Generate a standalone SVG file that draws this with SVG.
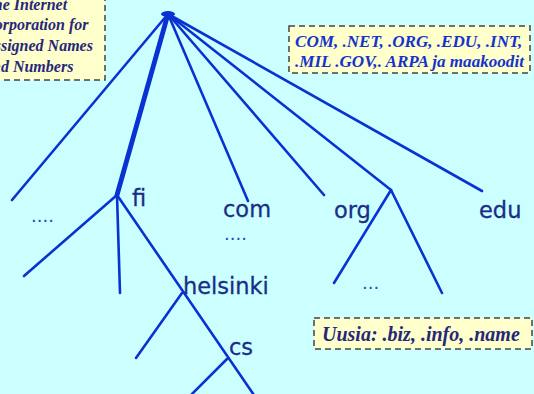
<svg xmlns="http://www.w3.org/2000/svg" width="534" height="394" viewBox="0 0 534 394">
<style>
.ln{stroke:#0a32d2;stroke-width:2.6;fill:none;stroke-linecap:round}
.thick{stroke-width:4.8}
.lbl{font-family:"DejaVu Sans",sans-serif;font-size:22.5px;fill:#1a2e86;stroke:#1a2e86;stroke-width:0.3}
.dots{font-family:"DejaVu Sans",sans-serif;font-size:18px;fill:#2a48c0}
.box{fill:#ffffcc;stroke:#444;stroke-width:1.5;stroke-dasharray:6,4}
.note{font-family:"Liberation Serif",serif;font-weight:bold;font-style:italic}
</style>
<rect x="0" y="0" width="534" height="394" fill="#ccffff"/>
<g id="note-icann">
<rect class="box" x="-10" y="-10" width="115" height="90"/>
<text class="note" font-size="16" fill="#27277a"><tspan x="-16" y="9.5">The Internet</tspan><tspan x="-16" y="30.2">Corporation for</tspan><tspan x="-16" y="50.9">Assigned Names</tspan><tspan x="-16" y="71.6">and Numbers</tspan></text>
</g>
<g id="note-tld">
<rect class="box" x="289" y="26" width="241" height="47"/>
<text class="note" font-size="17.1" fill="#1433cc"><tspan x="295" y="47">COM, .NET, .ORG, .EDU, .INT,</tspan><tspan x="295" y="67">.MIL .GOV,. ARPA ja maakoodit</tspan></text>
</g>
<g id="note-new">
<rect class="box" x="314" y="318" width="218" height="31"/>
<text class="note" x="322" y="341" font-size="20" fill="#27277a">Uusia: .biz, .info, .name</text>
</g>
<g id="connectors">
<line class="ln" x1="168" y1="14" x2="12" y2="200"/>
<line class="ln thick" x1="168" y1="14" x2="117" y2="195"/>
<line class="ln" x1="168" y1="14" x2="248" y2="201"/>
<line class="ln" x1="168" y1="14" x2="324" y2="195"/>
<line class="ln" x1="168" y1="14" x2="391" y2="190"/>
<line class="ln" x1="168" y1="14" x2="482" y2="191"/>
<line class="ln" x1="117" y1="195" x2="24" y2="276"/>
<line class="ln" x1="117" y1="195" x2="120" y2="293"/>
<line class="ln" x1="117" y1="195" x2="256" y2="398"/>
<line class="ln" x1="182" y1="293" x2="136" y2="358"/>
<line class="ln" x1="227" y1="359" x2="188" y2="398"/>
<line class="ln" x1="391" y1="190" x2="334" y2="283"/>
<line class="ln" x1="391" y1="190" x2="442" y2="293"/>
</g>
<g id="root"><ellipse cx="168" cy="14" rx="7" ry="3" fill="#0a32d2"/></g>
<g id="node-left"><text class="dots" x="31" y="222">....</text></g>
<g id="node-fi"><text class="lbl" x="132" y="206">fi</text></g>
<g id="node-com"><text class="lbl" x="223" y="217">com</text><text class="dots" x="224" y="240">....</text></g>
<g id="node-org"><text class="lbl" x="334" y="218">org</text><text class="dots" x="362" y="289">...</text></g>
<g id="node-edu"><text class="lbl" x="479" y="218">edu</text></g>
<g id="node-helsinki"><text class="lbl" x="183" y="294">helsinki</text></g>
<g id="node-cs"><text class="lbl" x="229" y="355">cs</text></g>
</svg>
